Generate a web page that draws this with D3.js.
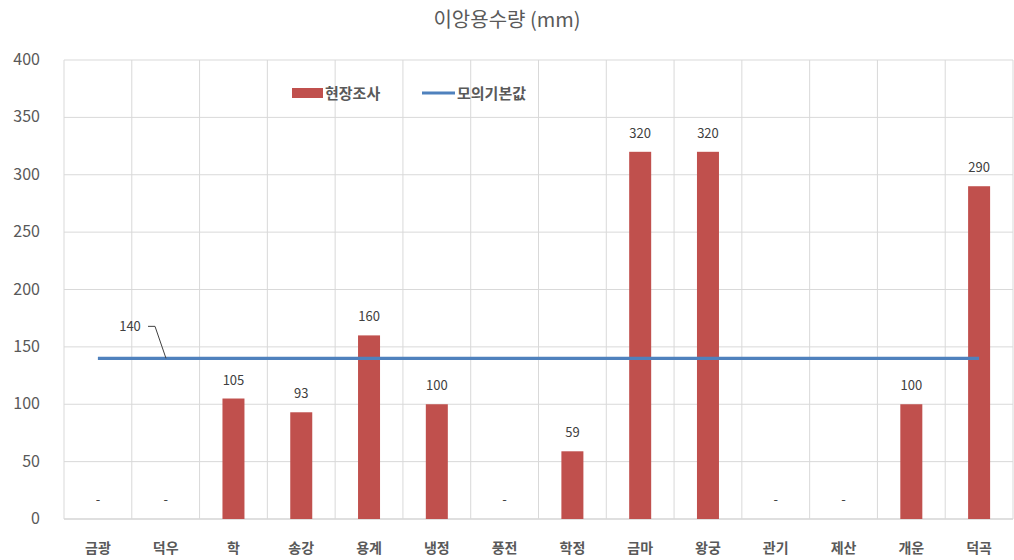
<!DOCTYPE html>
<html><head><meta charset="utf-8">
<script src="https://cdn.jsdelivr.net/npm/d3@7"></script>
<style>body{margin:0;background:#fff}svg{display:block;font-family:"Noto Sans CJK KR","Noto Sans",sans-serif}</style>
</head><body><svg id="c" width="1014" height="560"></svg>
<script>
const categories = ["금광","덕우","학","송강","용계","냉정","풍전","학정","금마","왕궁","관기","제산","개운","덕곡"];
const fieldValues = [null,null,105,93,160,100,null,59,320,320,null,null,100,290];
const baseValue = 140;
const yTicks = [0,50,100,150,200,250,300,350,400];
const seriesNames = ["현장조사","모의기본값"];

const svg = d3.select("#c");
const m = {l:64, r:1013, t:60, b:519};
const x = d3.scaleBand().domain(categories).range([m.l, m.r]).paddingInner(0).paddingOuter(0);
const y = d3.scaleLinear().domain([0,400]).range([m.b, m.t]);
const barW = 22;

// title
svg.append("text").attr("x",507).attr("y",27).attr("text-anchor","middle")
  .attr("font-size",20).attr("fill","#595959").text("이앙용수량 (mm)");

// horizontal grid
svg.append("g").selectAll("line").data(yTicks).join("line")
  .attr("x1",m.l).attr("x2",m.r).attr("y1",d=>y(d)).attr("y2",d=>y(d))
  .attr("stroke",d=>d===0?"#bfbfbf":"#d9d9d9").attr("stroke-width",1);
// vertical grid
const vb = categories.map(c=>x(c)).concat([m.r]);
svg.append("g").selectAll("line").data(vb).join("line")
  .attr("x1",d=>d).attr("x2",d=>d).attr("y1",m.t).attr("y2",m.b)
  .attr("stroke","#d9d9d9").attr("stroke-width",1);

// y axis labels
svg.append("g").selectAll("text").data(yTicks).join("text")
  .attr("x",40).attr("y",d=>y(d)+5).attr("text-anchor","end")
  .attr("font-size",16).attr("fill","#595959").text(d=>d);

// x labels
svg.append("g").selectAll("text").data(categories).join("text")
  .attr("x",d=>x(d)+x.bandwidth()/2).attr("y",553).attr("text-anchor","middle")
  .attr("font-size",14).attr("font-weight","bold").attr("fill","#595959").text(d=>d);

// bars
const data = categories.map((c,i)=>({c, v:fieldValues[i]}));
svg.append("g").selectAll("rect").data(data.filter(d=>d.v!=null)).join("rect")
  .attr("x",d=>x(d.c)+x.bandwidth()/2-barW/2).attr("width",barW)
  .attr("y",d=>y(d.v)).attr("height",d=>y(0)-y(d.v)).attr("fill","#C0504D");

// bar labels
svg.append("g").selectAll("text").data(data).join("text")
  .attr("x",d=>x(d.c)+x.bandwidth()/2).attr("y",d=>d.v==null? y(0)-15 : y(d.v)-14)
  .attr("text-anchor","middle").attr("font-size",13).attr("fill","#404040")
  .text(d=>d.v==null?"-":d.v);

// base line
const cx0 = x(categories[0])+x.bandwidth()/2, cx1 = x(categories[categories.length-1])+x.bandwidth()/2;
svg.append("line").attr("x1",cx0).attr("x2",cx1).attr("y1",y(baseValue)).attr("y2",y(baseValue))
  .attr("stroke","#4F81BD").attr("stroke-width",3.2);
// base label with leader
const ly = y(baseValue);
svg.append("text").attr("x",130).attr("y",ly-27).attr("text-anchor","middle")
  .attr("font-size",13).attr("fill","#404040").text(baseValue);
svg.append("path").attr("d",`M${148},${ly-32} L${155},${ly-32} L${166},${ly}`)
  .attr("fill","none").attr("stroke","#404040").attr("stroke-width",1);

// legend
const lg = svg.append("g");
lg.append("rect").attr("x",292).attr("y",88).attr("width",31).attr("height",10).attr("fill","#C0504D");
lg.append("text").attr("x",325).attr("y",99).attr("font-size",15).attr("font-weight","bold").attr("fill","#595959").text(seriesNames[0]);
lg.append("line").attr("x1",422).attr("x2",455).attr("y1",93).attr("y2",93).attr("stroke","#4F81BD").attr("stroke-width",3.2);
lg.append("text").attr("x",457).attr("y",99).attr("font-size",15).attr("font-weight","bold").attr("fill","#595959").text(seriesNames[1]);
</script></body></html>
